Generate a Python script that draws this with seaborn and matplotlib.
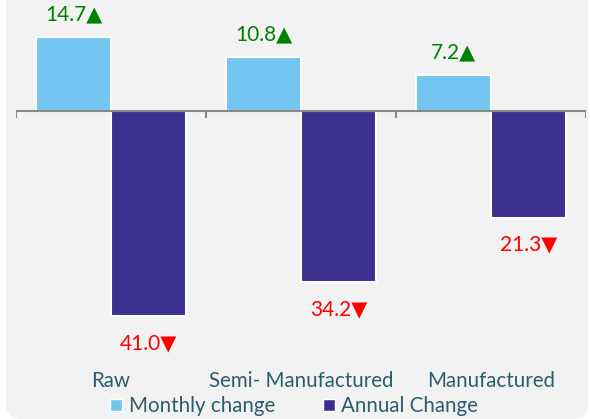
import matplotlib
matplotlib.use('Agg')
import matplotlib.pyplot as plt
import matplotlib.transforms as mtransforms
from matplotlib.patches import FancyBboxPatch
import seaborn as sns
import pandas as pd

# data
categories = ['Raw', 'Semi- Manufactured', 'Manufactured']
monthly_change = [14.7, 10.8, 7.2]
annual_change = [-41.0, -34.2, -21.3]
series_names = ['Monthly change', 'Annual Change']

df = pd.DataFrame({
    'category': categories * 2,
    'series': [series_names[0]] * 3 + [series_names[1]] * 3,
    'value': monthly_change + annual_change,
})

sns.set_style('white')
plt.rcParams['font.family'] = ['Lato', 'DejaVu Sans']

text_color = '#2b5d6b'
colors = ['#73c6ef', '#3b2f8f']

fig = plt.figure(figsize=(5.9, 4.19), dpi=100)
fig.patch.set_facecolor('white')

# light grey panel with rounded bottom corners (top ones pushed off-canvas)
panel = FancyBboxPatch((6, 0), 582, 500,
                       boxstyle='round,pad=0,rounding_size=16',
                       transform=mtransforms.IdentityTransform(),
                       facecolor='#f2f2f2', edgecolor='none', zorder=-10)
fig.patches.append(panel)

ax = fig.add_axes([16 / 590, 59 / 419, 570 / 590, 360 / 419])
ax.set_facecolor('none')

sns.barplot(data=df, x='category', y='value', hue='series', order=categories,
            hue_order=series_names, palette=colors, saturation=1, width=0.79,
            edgecolor='white', linewidth=1.5, ax=ax, legend=False)

ax.set_xlim(-0.5, 2.5)
ax.set_ylim(-49.8, 22.2)
sns.despine(ax=ax, left=True, bottom=True, top=True, right=True)
ax.set_yticks([])
ax.set_xlabel('')
ax.set_ylabel('')
ax.tick_params(axis='x', length=0, pad=8, labelsize=14.8, labelcolor=text_color)

# zero line with boundary ticks
ax.axhline(0, color='#888888', lw=1.5, zorder=5)
bounds = [i - 0.5 for i in range(len(categories) + 1)]
ax.vlines(bounds, -1.3, 0, color='#888888', lw=1.5, zorder=5)

# value labels
off = 0.79 / 4
for i in range(len(categories)):
    m = monthly_change[i]
    a = annual_change[i]
    ax.text(i - off, m + 4.6, f'{m:.1f}\u25B2', ha='center', va='center',
            color='#008000', fontsize=15, family=['Lato', 'DejaVu Sans'])
    ax.text(i + off, a - 5.4, f'{abs(a):.1f}\u25BC', ha='center', va='center',
            color='#ff0000', fontsize=15, family=['Lato', 'DejaVu Sans'])

handles = [plt.Line2D([], [], marker='s', ls='none', markersize=8,
                      markerfacecolor=c, markeredgecolor='white')
           for c in colors]
fig.legend(handles, series_names, loc='center', ncol=2, frameon=False,
           bbox_to_anchor=(293 / 590, 1 - 406 / 419), fontsize=14.8,
           labelcolor=text_color, handletextpad=0.2, columnspacing=2.2,
           handlelength=0.8, borderpad=0)

fig.savefig('out.png', dpi=100, facecolor=fig.get_facecolor())
